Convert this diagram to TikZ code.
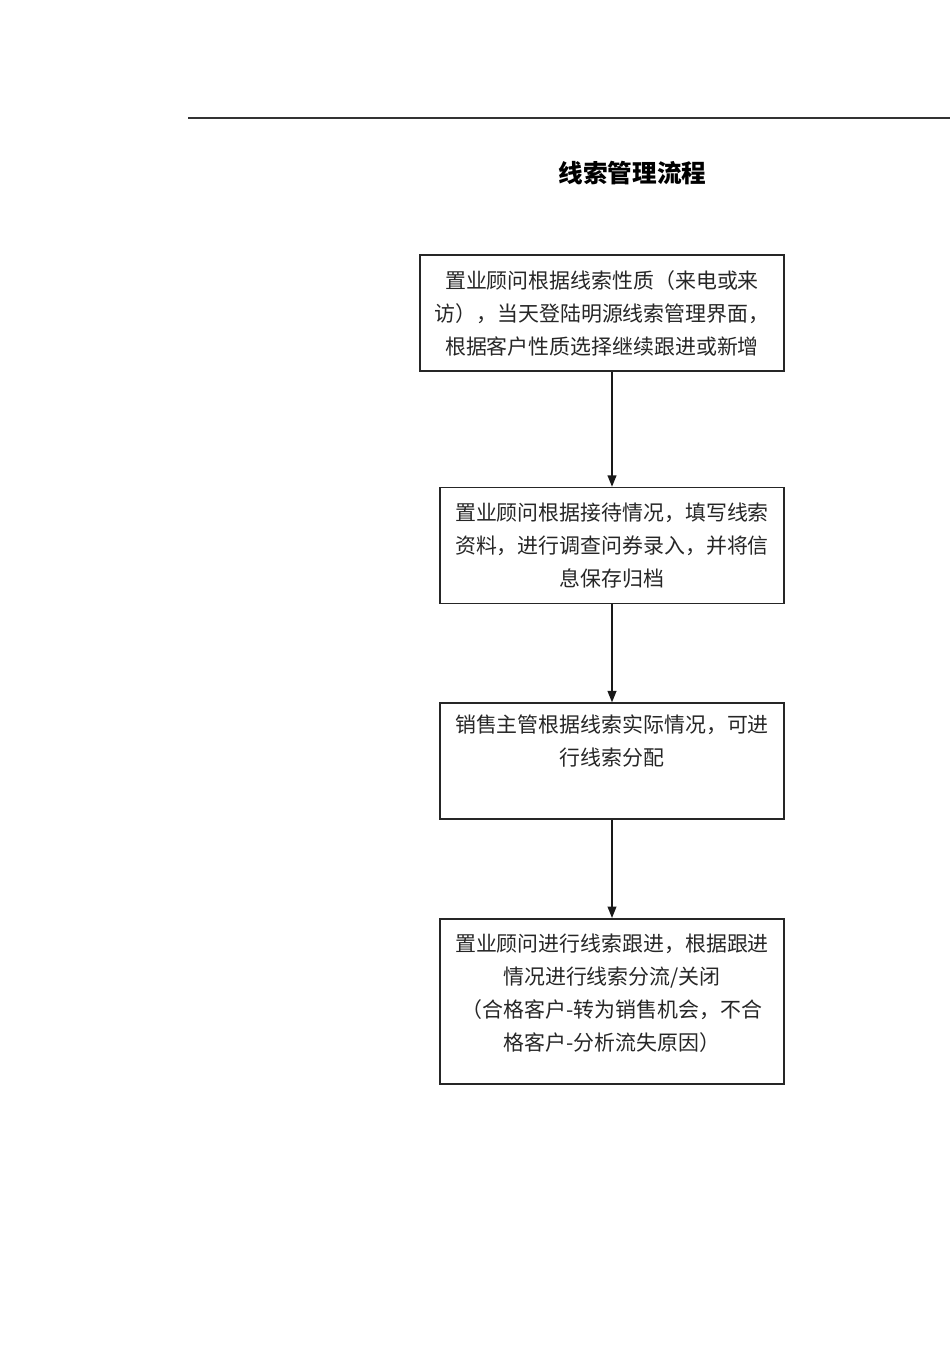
\documentclass[tikz,border=0pt]{standalone}
\usepackage{fontspec}
\newfontfamily\cjk{Noto Sans CJK SC}
\usetikzlibrary{arrows.meta, positioning}

\begin{document}
\begin{tikzpicture}[
    node distance = 1.96cm,
    every node/.style = {font=\cjk\fontsize{11.9pt}{18.8pt}\selectfont},
    stepbox/.style = {
        rectangle, draw=black!85, line width=0.9pt,
        minimum width=6.88cm, minimum height=2.32cm,
        align=center, text=black!85, inner sep=2pt
    },
    arr/.style = {
        -{Triangle[length=6.5pt,width=5pt]},
        line width=0.9pt, color=black!90
    },
    rule/.style = {line width=1.1pt, color=black!80},
    heading/.style = {font=\cjk\bfseries\fontsize{14pt}{16pt}\selectfont}
]
\useasboundingbox (0,0) rectangle (19,-26.9);

%% Header rule and title
\coordinate (ruleL) at (3.76,-2.36);
\coordinate (ruleR) at (19,-2.36);
\draw[rule] (ruleL) -- (ruleR);
\node[heading] (title) at (12.65,-3.46) {线索管理流程};

%% Main vertical chain
\node[stepbox, minimum width=7.28cm] (login) at (12.04,-6.26)
    {置业顾问根据线索性质（来电或来\\访），当天登陆明源线索管理界面，\\根据客户性质选择继续跟进或新增};
\node[stepbox, below left=2.3cm and 0cm of login.south east, anchor=north east] (record)
    {置业顾问根据接待情况，填写线索\\资料，进行调查问券录入，并将信\\息保存归档};
\node[stepbox, below=of record] (assign)
    {销售主管根据线索实际情况，可进\\行线索分配\\\strut};
\node[stepbox, below=of assign, minimum height=3.3cm] (follow)
    {置业顾问进行线索跟进，根据跟进\\情况进行线索分流/关闭\\（合格客户-转为销售机会，不合\\格客户-分析流失原因）\\[-0.3cm]};

%% Arrows
\draw[arr] (login.south -| record.north) -- (record.north);
\draw[arr] (record) -- (assign);
\draw[arr] (assign) -- (follow);

\end{tikzpicture}
\end{document}
